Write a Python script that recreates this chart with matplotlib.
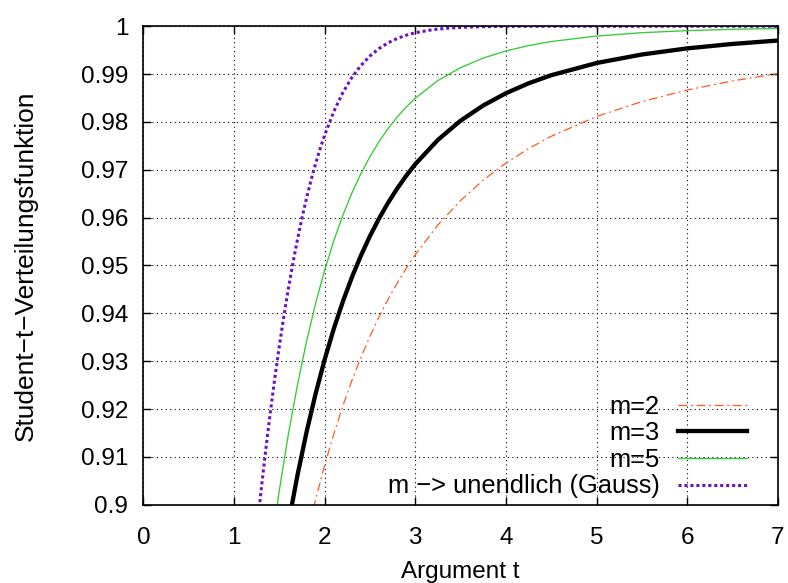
import matplotlib
matplotlib.use("Agg")
import matplotlib.pyplot as plt
from matplotlib.ticker import FixedLocator

plt.rcParams['font.family'] = ['Liberation Sans', 'DejaVu Sans']

# Student-t CDF values
t_m2 = [1.7, 1.8, 1.9, 2.0, 2.1, 2.2, 2.3, 2.4, 2.5, 2.6, 2.7, 2.8, 2.9, 3.0, 3.25, 3.5, 3.75,
        4.0, 4.25, 4.5, 5.0, 5.5, 6.0, 6.5, 7.0]
F_m2 = [0.88438, 0.89317, 0.90109, 0.90825, 0.91473, 0.92060, 0.92593, 0.93078, 0.93519, 0.93923,
        0.94292, 0.94630, 0.94941, 0.95227, 0.95847, 0.96358, 0.96784, 0.97140, 0.97442, 0.97700,
        0.98113, 0.98425, 0.98666, 0.98857, 0.99010]

t_m3 = [1.5, 1.6, 1.7, 1.8, 1.9, 2.0, 2.1, 2.2, 2.3, 2.4, 2.5, 2.6, 2.7, 2.8, 2.9, 3.0, 3.25, 3.5,
        3.75, 4.0, 4.25, 4.5, 5.0, 5.5, 6.0, 6.5, 7.0]
F_m3 = [0.88471, 0.89605, 0.90616, 0.91516, 0.92318, 0.93034, 0.93672, 0.94241, 0.94751, 0.95206,
        0.95615, 0.95981, 0.96311, 0.96607, 0.96875, 0.97117, 0.97626, 0.98026, 0.98344, 0.98600,
        0.98807, 0.98976, 0.99231, 0.99409, 0.99537, 0.99630, 0.99701]

t_m5 = [1.4, 1.5, 1.6, 1.7, 1.8, 1.9, 2.0, 2.1, 2.2, 2.3, 2.4, 2.5, 2.6, 2.7, 2.8, 2.9, 3.0, 3.25,
        3.5, 3.75, 4.0, 4.25, 4.5, 5.0, 5.5, 6.0, 6.5, 7.0]
F_m5 = [0.88980, 0.90305, 0.91475, 0.92506, 0.93412, 0.94207, 0.94903, 0.95512, 0.96045, 0.96511,
        0.96919, 0.97275, 0.97588, 0.97861, 0.98101, 0.98311, 0.98495, 0.98865, 0.99135, 0.99335,
        0.99484, 0.99595, 0.99680, 0.99795, 0.99865, 0.99908, 0.99936, 0.99954]

t_gauss = [1.25, 1.3, 1.35, 1.4, 1.45, 1.5, 1.55, 1.6, 1.65, 1.7, 1.75, 1.8, 1.85, 1.9, 1.95, 2.0,
           2.1, 2.2, 2.3, 2.4, 2.5, 2.6, 2.7, 2.8, 2.9, 3.0, 3.2, 3.4, 3.6, 3.8, 4.0, 4.5, 5.0, 6.0, 7.0]
F_gauss = [0.89435, 0.90320, 0.91149, 0.91924, 0.92647, 0.93319, 0.93943, 0.94520, 0.95053, 0.95543,
           0.95994, 0.96407, 0.96784, 0.97128, 0.97441, 0.97725, 0.98214, 0.98610, 0.98928, 0.99180,
           0.99379, 0.99534, 0.99653, 0.99744, 0.99813, 0.99865, 0.99931, 0.99966, 0.99984, 0.99993,
           0.99997, 1.00000, 1.00000, 1.00000, 1.00000]

labels = ["m=2", "m=3", "m=5", "m \u2212> unendlich (Gauss)"]
x_ticks = [0, 1, 2, 3, 4, 5, 6, 7]
y_ticks = [0.9, 0.91, 0.92, 0.93, 0.94, 0.95, 0.96, 0.97, 0.98, 0.99, 1.0]
y_tick_labels = ["0.9", "0.91", "0.92", "0.93", "0.94", "0.95", "0.96", "0.97", "0.98", "0.99", "1"]

FS = 17.5

fig = plt.figure(figsize=(7.88, 5.83), dpi=100)
ax = fig.add_axes([0.182, 0.1343, 0.805, 0.8207])

ax.plot(t_m2, F_m2, color='#ff5a1e', lw=0.9, linestyle=(0, (7, 3, 1.5, 3)), label=labels[0])
ax.plot(t_m3, F_m3, color='black', lw=3.1, label=labels[1])
ax.plot(t_m5, F_m5, color='#33cc33', lw=0.95, label=labels[2])
ax.plot(t_gauss, F_gauss, color='#7010c0', lw=2.2, linestyle=(0, (1.0, 0.95)),
        dash_capstyle='butt', label=labels[3])

ax.set_xlim(0, 7)
ax.set_ylim(0.9, 1.0)
ax.xaxis.set_major_locator(FixedLocator(x_ticks))
ax.yaxis.set_major_locator(FixedLocator(y_ticks))
ax.set_yticklabels(y_tick_labels)
ax.tick_params(direction='in', length=6, width=1, top=True, right=True, labelsize=FS)
ax.tick_params(axis='x', pad=16)
ax.tick_params(axis='y', pad=11)
ax.grid(True, color='black', linestyle=(0, (1, 3)), lw=0.8)
for s in ax.spines.values():
    s.set_linewidth(1.2)

ax.set_xlabel("Argument t", fontsize=FS, labelpad=9)
ax.set_ylabel("Student\u2212t\u2212Verteilungsfunktion", fontsize=18.9, labelpad=31)

leg = ax.legend(loc='lower right', bbox_to_anchor=(0.951, 0.013), frameon=False, markerfirst=False,
                prop={'size': 18.4}, handlelength=2.7, labelspacing=0.1, handletextpad=0.7,
                borderaxespad=0.0, borderpad=0.0)

fig.savefig("out.png", dpi=100)
